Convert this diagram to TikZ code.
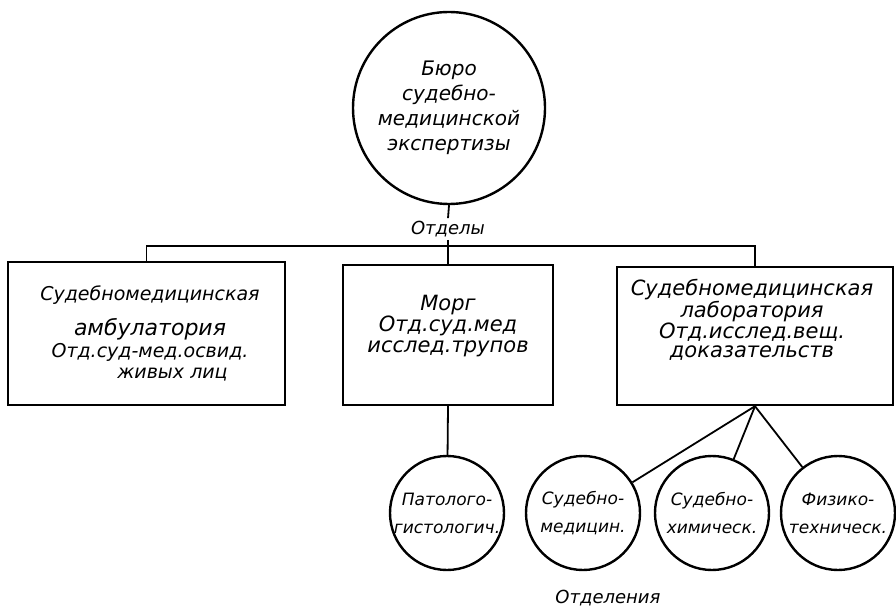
\documentclass[tikz,border=0pt]{standalone}
\usepackage{fontspec}
\setmainfont{DejaVu Sans}
\begin{document}
\begin{tikzpicture}[x=1pt, y=-1pt, line width=1.8pt,
  box/.style = {draw, line width=2.4pt, inner sep=0pt},
  circ/.style = {draw, circle, line width=2.4pt, inner sep=0pt, align=center},
  txt/.style = {align=center, inner sep=2pt, font=\itshape\fontsize{18}{20}\selectfont},
  small/.style = {font=\itshape\fontsize{17}{28}\selectfont}]
\useasboundingbox (0,0) rectangle (896,609);
% head office
\node[circ, minimum size=192pt, font=\itshape\fontsize{20}{25}\selectfont] (buro) at (449,108)
  {Бюро\\судебно-\\медицинской\\экспертизы};
\node[txt] (otdely) at (448,229) {Отделы};
\coordinate (bus) at (448,246);
% departments
\node[box, minimum width=277pt, minimum height=143pt] (amb) at (146.5,333.5) {};
\node[txt, font=\itshape\fontsize{19}{20}\selectfont] (ambt) at (150,333) {Судебномедицинская\\[13pt]
  {\fontsize{22}{20}\selectfont амбулатория}\\[2pt]
  Отд.суд-мед.освид.\\[1pt]
  \hspace*{45pt}живых лиц};
\node[box, minimum width=210pt, minimum height=140pt] (morg) at (448,335) {};
\node[txt, font=\itshape\fontsize{21}{21}\selectfont] (morgt) at (448,326)
  {Морг\\Отд.суд.мед\\исслед.трупов};
\node[box, minimum width=276pt, minimum height=138pt] (lab) at (755,336) {};
\node[txt, font=\itshape\fontsize{21}{19.5}\selectfont] (labt) at (752,320)
  {Судебномедицинская\\лаборатория\\Отд.исслед.вещ.\\доказательств};
% sections
\node[circ, small, minimum size=114pt] (pat) at (447,513) {Патолого-\\гистологич.};
\node[circ, small, minimum size=114pt] (sudmed) at (583,513) {Судебно-\\медицин.};
\node[circ, small, minimum size=114pt] (sudhim) at (712,513) {Судебно-\\химическ.};
\node[circ, small, minimum size=114pt] (fiz) at (838,513) {Физико-\\техническ.};
\node[txt] (otdelenia) at (608,598) {Отделения};
% lines
\draw (buro.south) -- (otdely.north);
\draw (otdely.south) -- (morg.north);
\draw (amb.north) |- (bus) -| (lab.north);
\draw (morg.south) -- (pat);
\draw (lab.south) -- (sudmed);
\draw (lab.south) -- (sudhim);
\draw (lab.south) -- (fiz);
\end{tikzpicture}
\end{document}
